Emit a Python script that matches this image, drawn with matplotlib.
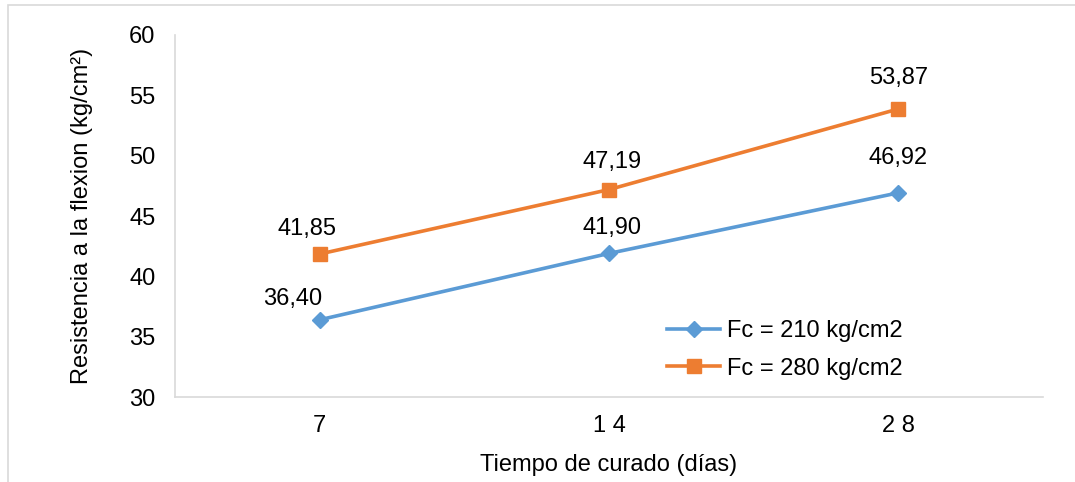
import matplotlib
matplotlib.use("Agg")
import matplotlib.pyplot as plt
from matplotlib.patches import Rectangle

# Data
dias = ["7", "1 4", "2 8"]
fc210 = [36.40, 41.90, 46.92]
fc280 = [41.85, 47.19, 53.87]
y_ticks = [30, 35, 40, 45, 50, 55, 60]

# label offsets in pixels (dx, dy)
off210 = [(-27, 21), (3, 25), (0, 35)]
off280 = [(-13, 25), (3, 28), (0, 31)]

plt.rcParams["font.family"] = ["Liberation Sans", "DejaVu Sans"]
fs = 17

fig = plt.figure(figsize=(10.75, 4.82), dpi=100)
fig.patches.append(Rectangle((8 / 1075, -0.1), 1.2, (482 - 5) / 482 + 0.1,
                             transform=fig.transFigure, fill=False,
                             edgecolor="#D9D9D9", linewidth=1.2))
ax = fig.add_axes([0.1628, 0.1763, 0.8074, 0.7511])

x = list(range(len(dias)))
blue = "#5B9BD5"
orange = "#ED7D31"
ax.plot(x, fc210, color=blue, lw=2.6, marker="D", markersize=8,
        label="Fc = 210 kg/cm2")
ax.plot(x, fc280, color=orange, lw=2.6, marker="s", markersize=10,
        label="Fc = 280 kg/cm2")

for xi, v, o in zip(x, fc210, off210):
    ax.annotate(f"{v:.2f}".replace(".", ","), (xi, v), xytext=o,
                textcoords="offset pixels", ha="center", va="center",
                fontsize=fs, color="#000000")
for xi, v, o in zip(x, fc280, off280):
    ax.annotate(f"{v:.2f}".replace(".", ","), (xi, v), xytext=o,
                textcoords="offset pixels", ha="center", va="center",
                fontsize=fs, color="#000000")

ax.set_xlim(-0.5, 2.5)
ax.set_ylim(30, 60)
ax.set_xticks(x)
ax.set_xticklabels(dias)
ax.set_yticks(y_ticks)
ax.tick_params(length=0, labelsize=fs, colors="#000000")
ax.tick_params(axis="y", pad=14)
ax.tick_params(axis="x", pad=13)

for s in ["top", "right"]:
    ax.spines[s].set_visible(False)
for s in ["left", "bottom"]:
    ax.spines[s].set_color("#D9D9D9")
    ax.spines[s].set_linewidth(1.2)

ax.set_xlabel("Tiempo de curado (días)", fontsize=fs, labelpad=12)
ax.set_ylabel("Resistencia a la flexion (kg/cm²)", fontsize=fs, labelpad=26)

ax.legend(loc="upper left", bbox_to_anchor=(0.567, 0.212), frameon=False,
          borderaxespad=0, borderpad=0,
          fontsize=fs, handlelength=2.25, handletextpad=0.3, labelspacing=0.65)

fig.savefig("out.png", dpi=100)
